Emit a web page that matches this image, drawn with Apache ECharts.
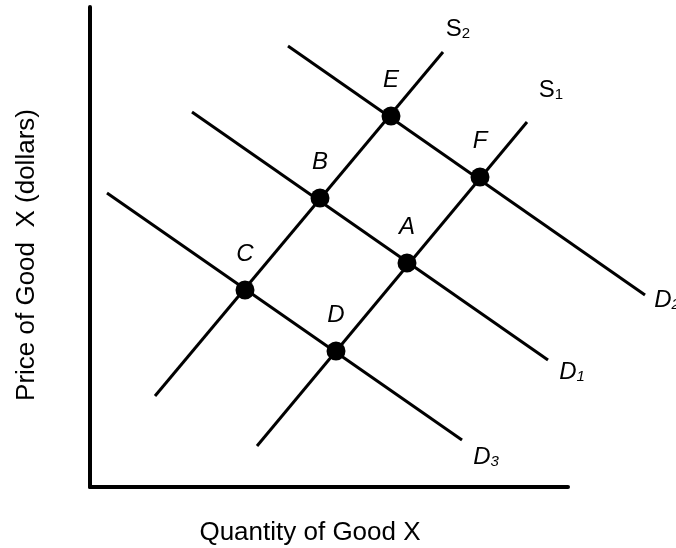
<!DOCTYPE html>
<html>
<head>
<meta charset="utf-8">
<script src="https://cdn.jsdelivr.net/npm/echarts@6/dist/echarts.min.js"></script>
<style>
  html, body { margin: 0; padding: 0; background: #fff; }
  #main { width: 676px; height: 548px; }
</style>
</head>
<body>
<div id="main"></div>
<script>
// schematic units: quantity (x) and price (y)
var curveNames = ['D3', 'D1', 'D2', 'S2', 'S1'];
var curveStart = [[17, 294], [102, 375], [198, 441], [65, 91], [167, 41]];
var curveEnd = [[372, 47], [458, 127], [555, 192], [353, 435], [437, 365]];
var pointNames = ['C', 'B', 'E', 'D', 'A', 'F'];
var pointX = [155, 230, 301, 246, 317, 390];
var pointY = [197, 289, 371, 136, 224, 310];

var labelOffset = {
  D3: [24, 15], D1: [24, 10], D2: [22, 3], S2: [15, -25], S1: [24, -34]
};

let chart = echarts.init(document.getElementById('main'))

var series = [];
curveNames.forEach(function (name, i) {
  series.push({
    name: name,
    type: 'line',
    xAxisIndex: 1,
    yAxisIndex: 1,
    clip: false,
    silent: true,
    showSymbol: false,
    lineStyle: { color: '#000', width: 3 },
    z: 2,
    data: [curveStart[i], curveEnd[i]]
  })
});

// curve names (S1, S2, D1...) sit at the end of each curve
series.push({
  name: 'curveLabels',
  type: 'scatter',
  xAxisIndex: 1,
  yAxisIndex: 1,
  clip: false,
  silent: true,
  symbolSize: 0,
  itemStyle: { opacity: 1 },
  z: 6,
  data: curveNames.map(function (name, i) {
    var isS = name.charAt(0) == 'S';
    return {
      name: name,
      value: curveEnd[i],
      label: {
        show: true,
        position: 'inside',
        offset: labelOffset[name],
        align: 'center',
        verticalAlign: 'middle',
        formatter: '{a|' + name.charAt(0) + '}{b|' + name.charAt(1) + '}',
        rich: {
          a: {
            fontFamily: 'Liberation Sans',
            fontSize: 24,
            fontStyle: isS ? 'normal' : 'italic',
            color: '#000',
            lineHeight: 28,
            verticalAlign: 'bottom'
          },
          b: {
            fontFamily: 'Liberation Sans',
            fontSize: 15,
            fontStyle: isS ? 'normal' : 'italic',
            color: '#000',
            lineHeight: 20,
            verticalAlign: 'bottom',
            padding: [8, 0, 0, 0]
          }
        }
      }
    }
  })
});

series.push({
  name: 'points',
  type: 'scatter',
  xAxisIndex: 1,
  yAxisIndex: 1,
  silent: true,
  symbol: 'circle',
  symbolSize: 19,
  itemStyle: { color: '#000', opacity: 1 },
  z: 5,
  label: {
    show: true,
    position: 'top',
    distance: 14,
    formatter: function (p) { return p.name },
    fontFamily: 'Liberation Sans',
    fontSize: 24,
    fontStyle: 'italic',
    color: '#000'
  },
  data: pointNames.map(function (n, i) {
    return { name: n, value: [pointX[i], pointY[i]] }
  })
});

var hidden = {
  axisLine: { show: false },
  axisTick: { show: false },
  axisLabel: { show: false },
  splitLine: { show: false }
};

chart.setOption({
  animation: false,
  backgroundColor: '#fff',
  grid: [
    // visible axes
    { left: 90, top: 7, width: 478, height: 480, containLabel: false, outerBoundsMode: 'none' },
    // same scale, wider so D2 can run past the end of the axis
    { left: 90, top: 7, width: 590, height: 480, containLabel: false, outerBoundsMode: 'none' }
  ],
  xAxis: [{
    gridIndex: 0,
    type: 'value',
    min: 0,
    max: 478,
    axisLine: { show: true, lineStyle: { color: '#000', width: 4 } },
    axisTick: { show: false },
    axisLabel: { show: false },
    splitLine: { show: false },
    name: 'Quantity of Good X',
    nameLocation: 'middle',
    nameGap: 33,
    nameTextStyle: { fontFamily: 'Liberation Sans', fontSize: 26, color: '#000', padding: [0, 38, 0, 0] }
  }, Object.assign({ gridIndex: 1, type: 'value', min: 0, max: 590 }, hidden)],
  yAxis: [{
    gridIndex: 0,
    type: 'value',
    min: 0,
    max: 480,
    axisLine: { show: true, lineStyle: { color: '#000', width: 4 } },
    axisTick: { show: false },
    axisLabel: { show: false },
    splitLine: { show: false },
    name: 'Price of Good  X (dollars)',
    nameLocation: 'middle',
    nameGap: 50,
    nameTextStyle: { fontFamily: 'Liberation Sans', fontSize: 26, color: '#000', padding: [0, 16, 0, 0] }
  }, Object.assign({ gridIndex: 1, type: 'value', min: 0, max: 480 }, hidden)],
  series: series
})
</script>
</body>
</html>
